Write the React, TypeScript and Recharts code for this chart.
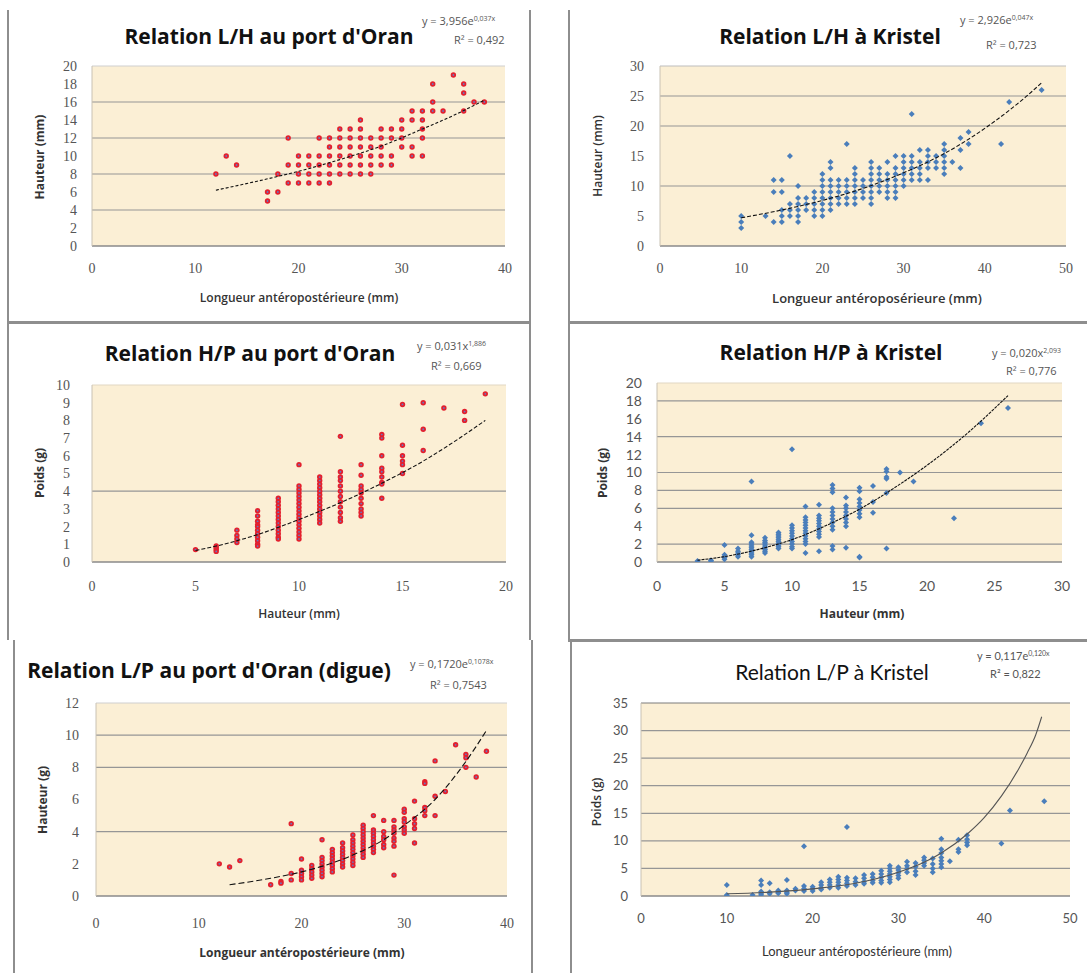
import React from "react";
import { CartesianGrid, ReferenceLine, Scatter, ScatterChart, XAxis, YAxis } from "recharts";

type Colonne = [number, number[]];
type Point = [number, number];

// Relation L/H au port d'Oran : longueur (mm) -> hauteurs (mm)
const LH_ORAN: Colonne[] = [
  [12, [8]], [13, [10]], [14, [9]], [17, [6, 5]], [18, [8, 6]], [19, [12, 9, 7]],
  [20, [10, 9, 8, 7]], [21, [10, 9, 8, 7]], [22, [12, 10, 9, 8, 7]], [23, [12, 11, 10, 9, 8, 7]],
  [24, [13, 12, 11, 10, 9, 8]], [25, [13, 12, 11, 10, 9, 8]], [26, [14, 13, 12, 11, 10, 9, 8]],
  [27, [12, 11, 10, 9, 8]], [28, [13, 12, 11, 10, 9]], [29, [13, 12, 10, 9]], [30, [14, 13, 12, 11]],
  [31, [15, 14, 11, 10]], [32, [15, 14, 13, 12, 10]], [33, [18, 16, 15]], [34, [15]], [35, [19]],
  [36, [18, 17, 15]], [37, [16]], [38, [16]],
];
const LH_ORAN_TENDANCE: Point[] = [[12, 6.2], [16, 7.2], [20, 8.3], [24, 9.6], [28, 11.1], [32, 13.0], [35, 14.5], [38, 16.2]];

// Relation L/H à Kristel
const LH_KRISTEL: Colonne[] = [
  [10, [5, 4, 3]], [13, [5]], [14, [11, 9, 4]], [15, [11, 9, 6, 5, 4]], [16, [15, 7, 6, 5]],
  [17, [10, 8, 7, 6, 5, 4]], [18, [8, 7, 6]], [19, [9, 8, 7, 6, 5]], [20, [12, 11, 10, 9, 8, 7, 6, 5]],
  [21, [14, 13, 11, 10, 9, 8, 7, 6]], [22, [11, 10, 9, 8, 7]], [23, [17, 11, 10, 9, 8, 7]],
  [24, [13, 12, 11, 10, 9, 8, 7]], [25, [11, 10, 9, 8]], [26, [14, 13, 12, 11, 10, 9, 8, 7]],
  [27, [13, 12, 11, 10, 9]], [28, [14, 12, 11, 10, 9, 8]], [29, [15, 13, 12, 11, 10, 9, 8]],
  [30, [15, 14, 13, 12, 11, 10]], [31, [22, 15, 14, 13, 12, 11]], [32, [16, 14, 13, 12, 11]],
  [33, [16, 15, 14, 13, 11]], [34, [15, 14, 13]], [35, [17, 16, 15, 14, 13, 12]], [36, [14]],
  [37, [18, 16, 13]], [38, [19, 17]], [42, [17]], [43, [24]], [47, [26]],
];
const LH_KRISTEL_TENDANCE: Point[] = [[10, 4.7], [15, 6.0], [20, 7.6], [25, 9.6], [30, 12.2], [35, 15.4], [40, 19.6], [43, 22.6], [45, 24.8], [47, 27.2]];

// Relation H/P au port d'Oran : hauteur (mm) -> poids (g)
const HP_ORAN: Colonne[] = [
  [5, [0.7]], [6, [0.9, 0.8, 0.7, 0.6]], [7, [1.8, 1.5, 1.3, 1.1]],
  [8, [2.9, 2.6, 2.3, 2.1, 2.0, 1.8, 1.6, 1.4, 1.2, 1.0, 0.9]],
  [9, [3.6, 3.4, 3.2, 3.0, 2.8, 2.6, 2.4, 2.2, 2.0, 1.8, 1.6, 1.4, 1.3]],
  [10, [5.5, 4.3, 4.1, 3.9, 3.7, 3.5, 3.3, 3.1, 2.9, 2.7, 2.5, 2.3, 2.1, 1.9, 1.7, 1.5, 1.3]],
  [11, [4.8, 4.6, 4.4, 4.2, 4.0, 3.8, 3.6, 3.4, 3.2, 3.0, 2.8, 2.6, 2.4, 2.2]],
  [12, [7.1, 5.1, 4.8, 4.6, 4.3, 4.0, 3.7, 3.4, 3.1, 2.8, 2.5, 2.3]],
  [13, [5.5, 4.9, 4.3, 4.1, 3.9, 3.6, 3.3, 3.0, 2.8, 2.6]],
  [14, [7.2, 7.0, 6.0, 5.3, 5.1, 4.8, 4.5, 4.4, 3.6]],
  [15, [8.9, 6.6, 6.0, 5.7, 5.5, 5.0]], [16, [9.0, 7.5, 6.3]], [17, [8.7]], [18, [8.5, 8.0]], [19, [9.5]],
];
const HP_ORAN_TENDANCE: Point[] = [[5, 0.65], [6, 0.9], [8, 1.55], [10, 2.4], [12, 3.35], [14, 4.45], [16, 5.7], [17.5, 6.8], [19, 8.0]];

// Relation H/P à Kristel
const HP_KRISTEL: Colonne[] = [
  [3, [0.1]], [4, [0.2, 0.1]], [5, [1.9, 0.8, 0.6, 0.5, 0.3]], [6, [1.5, 1.2, 1.0, 0.8, 0.6]],
  [7, [9.0, 3.0, 2.2, 2.0, 1.8, 1.6, 1.4, 1.2, 1.0, 0.8, 0.6]],
  [8, [2.7, 2.4, 2.2, 2.0, 1.8, 1.6, 1.4, 1.2, 1.0]],
  [9, [3.3, 3.1, 2.9, 2.7, 2.5, 2.3, 2.1, 1.9, 1.7, 1.5]],
  [10, [12.6, 4.1, 3.8, 3.5, 3.2, 2.9, 2.6, 2.3, 2.0, 1.7, 1.5]],
  [11, [6.2, 5.0, 4.7, 4.4, 4.1, 3.8, 3.5, 3.2, 2.9, 2.6, 2.3, 2.0, 1.0]],
  [12, [6.4, 5.2, 4.9, 4.6, 4.3, 4.0, 3.7, 3.4, 3.1, 2.8, 1.2]],
  [13, [8.6, 8.2, 7.8, 6.0, 5.6, 5.2, 4.8, 4.4, 4.0, 3.6, 1.8, 1.4]],
  [14, [7.2, 6.3, 6.0, 5.6, 5.2, 4.8, 4.4, 4.0, 1.6]],
  [15, [8.3, 7.9, 7.0, 6.6, 6.2, 5.8, 5.4, 5.0, 0.6, 0.5]],
  [16, [8.5, 6.7, 5.5]], [17, [10.4, 10.1, 9.5, 9.3, 7.7, 1.5]], [18, [10.0]], [19, [9.0]],
  [22, [4.9]], [24, [15.5]], [26, [17.2]],
];
const HP_KRISTEL_TENDANCE: Point[] = [[3, 0.2], [5, 0.6], [8, 1.6], [10, 2.5], [13, 4.4], [15, 5.9], [18, 8.7], [20, 10.8], [23, 14.4], [26, 18.6]];

// Relation L/P au port d'Oran (digue)
const LP_ORAN: Colonne[] = [
  [12, [2.0]], [13, [1.8]], [14, [2.2]], [17, [0.7]], [18, [0.9, 0.8]], [19, [4.5, 1.4, 1.0]],
  [20, [2.3, 1.6, 1.4, 1.2, 1.0]], [21, [1.9, 1.7, 1.5, 1.3, 1.1]],
  [22, [3.5, 2.4, 2.2, 2.0, 1.8, 1.6, 1.4, 1.2]], [23, [2.9, 2.7, 2.5, 2.3, 2.1, 1.9, 1.7, 1.5]],
  [24, [3.3, 3.0, 2.8, 2.6, 2.4, 2.2, 2.0, 1.8]], [25, [3.8, 3.5, 3.3, 3.1, 2.9, 2.7, 2.5, 2.3, 2.1, 1.9]],
  [26, [4.4, 4.2, 4.0, 3.8, 3.6, 3.4, 3.2, 3.0, 2.8, 2.6, 2.4]],
  [27, [5.0, 4.1, 3.9, 3.7, 3.5, 3.3, 3.1, 2.9, 2.7]], [28, [4.7, 4.0, 3.7, 3.5, 3.2, 3.0]],
  [29, [4.7, 4.3, 4.1, 3.9, 3.6, 3.4, 3.1, 1.3]], [30, [5.4, 5.2, 4.8, 4.6, 4.3, 4.1, 3.9]],
  [31, [5.9, 4.8, 4.5, 4.2, 3.3]], [32, [7.1, 7.0, 5.5, 5.3, 5.0]], [33, [8.4, 6.2, 5.0]],
  [34, [6.5]], [35, [9.4]], [36, [8.8, 8.6, 8.0]], [37, [7.4]], [38, [9.0]],
];
const LP_ORAN_TENDANCE: Point[] = [[13, 0.7], [17, 1.1], [20, 1.5], [23, 2.05], [25, 2.55], [28, 3.5], [30, 4.4], [33, 6.0], [35, 7.5], [37, 9.3], [38, 10.3]];

// Relation L/P à Kristel
const LP_KRISTEL: Colonne[] = [
  [10, [2.0, 0.2, 0]], [13, [0.2]], [14, [2.8, 2.0, 0.8, 0.4, 0.2]], [15, [2.3, 0.7, 0.4]],
  [16, [1.0, 0.7, 0.5]], [17, [2.9, 1.0, 0.7, 0.4]], [18, [1.3, 1.0]], [19, [9.0, 1.8, 1.3, 0.9]],
  [20, [1.7, 1.3, 0.9]], [21, [2.5, 2.0, 1.5, 1.2]], [22, [3.0, 2.5, 2.0, 1.5]],
  [23, [3.5, 3.0, 2.5, 2.0, 1.5]], [24, [12.5, 3.3, 2.8, 2.3, 1.8]], [25, [3.2, 2.6, 2.0]],
  [26, [3.8, 3.2, 2.6, 2.2]], [27, [4.0, 3.4, 2.8, 2.4]], [28, [4.6, 4.0, 3.4, 2.8, 2.4]],
  [29, [5.5, 5.0, 4.5, 4.0, 3.5, 3.0, 2.5]], [30, [5.2, 4.7, 4.2, 3.7, 3.2]],
  [31, [6.2, 5.5, 5.0, 4.3]], [32, [6.0, 5.3, 4.5, 3.8]], [33, [7.0, 6.5, 6.0, 5.5]],
  [34, [6.8, 5.8, 5.0, 4.3]], [35, [10.4, 8.5, 7.8, 7.0, 6.4, 5.8, 5.2]], [36, [6.3]],
  [37, [10.2, 8.5, 8.0]], [38, [11.0, 10.3, 9.7, 9.2]], [42, [9.5]], [43, [15.5]], [47, [17.2]],
];
const LP_KRISTEL_TENDANCE: Point[] = [[10, 0.4], [15, 0.7], [20, 1.3], [25, 2.3], [30, 4.3], [33, 6.1], [35, 7.8], [38, 11.2], [40, 14.2], [42, 18.1], [44, 23.0], [45, 25.9], [46, 29.2], [46.7, 32.5]];

// graduations
const X_0_40 = [0, 10, 20, 30, 40];
const X_0_50 = [0, 10, 20, 30, 40, 50];
const X_0_20 = [0, 5, 10, 15, 20];
const X_0_30 = [0, 5, 10, 15, 20, 25, 30];
const Y_0_20_PAS2 = [0, 2, 4, 6, 8, 10, 12, 14, 16, 18, 20];
const Y_0_30 = [0, 5, 10, 15, 20, 25, 30];
const Y_0_10 = [0, 1, 2, 3, 4, 5, 6, 7, 8, 9, 10];
const Y_0_12 = [0, 2, 4, 6, 8, 10, 12];
const Y_0_35 = [0, 5, 10, 15, 20, 25, 30, 35];

const FOND = "#fbefd5";
const ROUGE = "#e3202e";
const BLEU = "#4a7ebb";
const SERIF = "'Liberation Serif', serif";
const SANS = "'Open Sans', sans-serif";
const LATO = "Lato, sans-serif";

const enPoints = (cols: Colonne[]) => cols.flatMap(([x, ys]) => ys.map((y) => ({ x, y })));
const enLigne = (pts: Point[]) => pts.map(([x, y]) => ({ x, y }));

function PointRouge(props: any) {
  const { cx, cy } = props;
  if (cx == null || cy == null) return <g />;
  return (
    <g>
      <circle cx={cx} cy={cy} r={2.7} fill={ROUGE} />
      <circle cx={cx} cy={cy} r={0.9} fill="#6a78c0" />
    </g>
  );
}

function LosangeBleu(props: any) {
  const { cx, cy } = props;
  if (cx == null || cy == null) return <g />;
  const r = 3;
  return <path d={`M${cx},${cy - r}L${cx + r},${cy}L${cx},${cy + r}L${cx - r},${cy}Z`} fill={BLEU} />;
}

const rien = () => <g />;

type Equation = { texte: string; exposant?: string; left: number; cy: number };

type Panneau = {
  id: string;
  cols: Colonne[];
  tendance: Point[];
  forme: any;
  plot: [number, number, number, number];
  xDomain: [number, number];
  xTicks: number[];
  yDomain: [number, number];
  yTicks: number[];
  grille: number[];
  bordHaut: string;
  police: string;
  taille: number;
  xMarge: number;
  yMarge: number;
  trait: string;
  titre: { texte: string; cx: number; cy: number; gras: boolean; police: string; taille: number };
  eq: Equation[];
  eqPolice: string;
  xTitre: { texte: string; cx: number; cy: number; poids: number; police: string; taille: number };
  yTitre: { texte: string; cx: number; cy: number; poids: number; police: string; taille: number };
};

const PANNEAUX: Panneau[] = [
  {
    id: "lh-oran", cols: LH_ORAN, tendance: LH_ORAN_TENDANCE, forme: PointRouge,
    plot: [92, 66, 505, 246], xDomain: [0, 40], xTicks: X_0_40, yDomain: [0, 20], yTicks: Y_0_20_PAS2,
    grille: [4, 8, 12, 16], bordHaut: "#cfcfcf", police: SERIF, taille: 14, xMarge: 17, yMarge: 15, trait: "3 2",
    titre: { texte: "Relation L/H au port d'Oran", cx: 269, cy: 36, gras: true, police: SANS, taille: 21 },
    eq: [{ texte: "y = 3,956e", exposant: "0,037x", left: 422, cy: 20 }, { texte: "R² = 0,492", left: 454, cy: 39 }],
    eqPolice: SANS,
    xTitre: { texte: "Longueur antéropostérieure (mm)", cx: 299, cy: 298, poids: 600, police: SANS, taille: 12 },
    yTitre: { texte: "Hauteur (mm)", cx: 40, cy: 157, poids: 700, police: SANS, taille: 12 },
  },
  {
    id: "lh-kristel", cols: LH_KRISTEL, tendance: LH_KRISTEL_TENDANCE, forme: LosangeBleu,
    plot: [660, 66, 1066, 246], xDomain: [0, 50], xTicks: X_0_50, yDomain: [0, 30], yTicks: Y_0_30,
    grille: [10, 20, 25], bordHaut: "#bdbdbd", police: SERIF, taille: 14, xMarge: 17, yMarge: 16, trait: "4 2",
    titre: { texte: "Relation L/H à Kristel", cx: 830, cy: 36, gras: true, police: SANS, taille: 21 },
    eq: [{ texte: "y = 2,926e", exposant: "0,047x", left: 960, cy: 19 }, { texte: "R² = 0,723", left: 986, cy: 44 }],
    eqPolice: SANS,
    xTitre: { texte: "Longueur antéroposérieure (mm)", cx: 877, cy: 298, poids: 600, police: SANS, taille: 13 },
    yTitre: { texte: "Hauteur (mm)", cx: 598, cy: 156, poids: 600, police: SANS, taille: 12 },
  },
  {
    id: "hp-oran", cols: HP_ORAN, tendance: HP_ORAN_TENDANCE, forme: PointRouge,
    plot: [92, 385, 506, 562], xDomain: [0, 20], xTicks: X_0_20, yDomain: [0, 10], yTicks: Y_0_10,
    grille: [4], bordHaut: "#e2d8c4", police: SERIF, taille: 14, xMarge: 19, yMarge: 22, trait: "4 2",
    titre: { texte: "Relation H/P au port d'Oran", cx: 250, cy: 353, gras: true, police: SANS, taille: 21 },
    eq: [{ texte: "y = 0,031x", exposant: "1,886", left: 417, cy: 345 }, { texte: "R² = 0,669", left: 431, cy: 365 }],
    eqPolice: SANS,
    xTitre: { texte: "Hauteur (mm)", cx: 299, cy: 614, poids: 600, police: SANS, taille: 12 },
    yTitre: { texte: "Poids (g)", cx: 40, cy: 473, poids: 700, police: SANS, taille: 12 },
  },
  {
    id: "hp-kristel", cols: HP_KRISTEL, tendance: HP_KRISTEL_TENDANCE, forme: LosangeBleu,
    plot: [657, 383, 1062, 562], xDomain: [0, 30], xTicks: X_0_30, yDomain: [0, 20], yTicks: Y_0_20_PAS2,
    grille: [2, 6, 8, 10, 14, 18], bordHaut: "#e2d8c4", police: LATO, taille: 14, xMarge: 19, yMarge: 15, trait: "3 1",
    titre: { texte: "Relation H/P à Kristel", cx: 831, cy: 352, gras: true, police: SANS, taille: 21 },
    eq: [{ texte: "y = 0,020x", exposant: "2,093", left: 992, cy: 352 }, { texte: "R² = 0,776", left: 1006, cy: 370 }],
    eqPolice: SANS,
    xTitre: { texte: "Hauteur (mm)", cx: 862, cy: 614, poids: 700, police: SANS, taille: 12 },
    yTitre: { texte: "Poids (g)", cx: 603, cy: 473, poids: 700, police: SANS, taille: 12 },
  },
  {
    id: "lp-oran", cols: LP_ORAN, tendance: LP_ORAN_TENDANCE, forme: PointRouge,
    plot: [96, 703, 507, 896], xDomain: [0, 40], xTicks: X_0_40, yDomain: [0, 12], yTicks: Y_0_12,
    grille: [4, 8, 10], bordHaut: "#cfcfcf", police: SERIF, taille: 14, xMarge: 22, yMarge: 17, trait: "6 3",
    titre: { texte: "Relation L/P au port d'Oran (digue)", cx: 209, cy: 670, gras: true, police: SANS, taille: 21 },
    eq: [{ texte: "y = 0,1720e", exposant: "0,1078x", left: 410, cy: 663 }, { texte: "R² = 0,7543", left: 430, cy: 684 }],
    eqPolice: SANS,
    xTitre: { texte: "Longueur antéropostérieure (mm)", cx: 302, cy: 953, poids: 700, police: SANS, taille: 12 },
    yTitre: { texte: "Hauteur (g)", cx: 43, cy: 800, poids: 700, police: SANS, taille: 12 },
  },
  {
    id: "lp-kristel", cols: LP_KRISTEL, tendance: LP_KRISTEL_TENDANCE, forme: LosangeBleu,
    plot: [641, 703, 1070, 896], xDomain: [0, 50], xTicks: X_0_50, yDomain: [0, 35], yTicks: Y_0_35,
    grille: [5, 10, 15, 20, 25, 30], bordHaut: "#7d7d7d", police: LATO, taille: 13, xMarge: 18, yMarge: 13, trait: "0",
    titre: { texte: "Relation L/P à Kristel", cx: 832, cy: 671, gras: false, police: LATO, taille: 21 },
    eq: [{ texte: "y = 0,117e", exposant: "0,120x", left: 977, cy: 655 }, { texte: "R² = 0,822", left: 990, cy: 673 }],
    eqPolice: LATO,
    xTitre: { texte: "Longueur antéropostérieure (mm)", cx: 857, cy: 951, poids: 400, police: LATO, taille: 13 },
    yTitre: { texte: "Poids (g)", cx: 597, cy: 802, poids: 600, police: SANS, taille: 12 },
  },
];

// traits des cadres scannés : [x, y, largeur, hauteur]
const CADRES: [number, number, number, number][] = [
  [7, 10, 2, 630], [529, 10, 2, 630], [7, 321, 524, 3],
  [568, 10, 2, 630], [568, 321, 519, 3], [568, 639, 519, 3],
  [570, 640, 2, 333], [13, 640, 2, 333], [531, 640, 2, 333],
];

const ML = 70;
const MT = 12;
const MR = 16;
const MB = 40;

function Graphique({ p }: { p: Panneau }) {
  const [L, T, R, B] = p.plot;
  const largeur = R - L + ML + MR;
  const hauteur = B - T + MT + MB;
  const tick = { fill: "#555", fontSize: p.taille, fontFamily: p.police };
  return (
    <div style={{ position: "absolute", left: L - ML, top: T - MT }}>
      <ScatterChart width={largeur} height={hauteur} margin={{ top: MT, right: MR, bottom: 0, left: 0 }}>
        <CartesianGrid horizontal={false} vertical={false} fill={FOND} fillOpacity={1} />
        <XAxis
          type="number" dataKey="x" domain={p.xDomain} ticks={p.xTicks} interval={0} height={MB}
          tickLine={false} tickSize={0} tickMargin={p.xMarge} tick={tick}
          axisLine={{ stroke: "#8a8a8a", strokeWidth: 1.5 }} allowDataOverflow
        />
        <YAxis
          type="number" dataKey="y" domain={p.yDomain} ticks={p.yTicks} interval={0} width={ML}
          tickLine={false} tickSize={0} tickMargin={p.yMarge} tick={tick}
          axisLine={{ stroke: "#c9c2b4" }} allowDataOverflow
        />
        <ReferenceLine y={p.yDomain[1]} stroke={p.bordHaut} strokeWidth={1.2} />
        {p.grille.map((v) => (
          <ReferenceLine key={v} y={v} stroke="#969696" strokeWidth={1.2} />
        ))}
        <Scatter data={enPoints(p.cols)} shape={p.forme} isAnimationActive={false} />
        <Scatter
          data={enLigne(p.tendance)} shape={rien} lineJointType="monotoneX"
          line={{ stroke: p.id === "lp-kristel" ? "#555" : "#111", strokeWidth: 1.1, strokeDasharray: p.trait }}
          isAnimationActive={false}
        />
      </ScatterChart>
    </div>
  );
}

function Textes({ p }: { p: Panneau }) {
  const t = p.titre;
  return (
    <>
      <div
        style={{
          position: "absolute", left: t.cx, top: t.cy, transform: "translate(-50%, -50%)", whiteSpace: "nowrap",
          fontFamily: t.police, fontSize: t.taille, fontWeight: t.gras ? 700 : 400, color: "#111", lineHeight: 1,
        }}
      >
        {t.texte}
      </div>
      {p.eq.map((e, i) => (
        <div
          key={i}
          style={{
            position: "absolute", left: e.left, top: e.cy, transform: "translateY(-50%)", whiteSpace: "nowrap",
            fontFamily: p.eqPolice, fontSize: 11, color: "#555", lineHeight: 1,
          }}
        >
          {e.texte}
          {e.exposant && <sup style={{ fontSize: 7, verticalAlign: "4px" }}>{e.exposant}</sup>}
        </div>
      ))}
      <div
        style={{
          position: "absolute", left: p.xTitre.cx, top: p.xTitre.cy, transform: "translate(-50%, -50%)",
          whiteSpace: "nowrap", fontFamily: p.xTitre.police, fontSize: p.xTitre.taille, fontWeight: p.xTitre.poids,
          color: "#333", lineHeight: 1,
        }}
      >
        {p.xTitre.texte}
      </div>
      <div
        style={{
          position: "absolute", left: p.yTitre.cx, top: p.yTitre.cy, transform: "translate(-50%, -50%) rotate(-90deg)",
          whiteSpace: "nowrap", fontFamily: p.yTitre.police, fontSize: p.yTitre.taille, fontWeight: p.yTitre.poids,
          color: "#333", lineHeight: 1,
        }}
      >
        {p.yTitre.texte}
      </div>
    </>
  );
}

export default function App() {
  return (
    <div
      style={{
        position: "absolute", left: 0, top: 0, width: 1087, height: 973, background: "#fff",
        overflow: "hidden", fontFamily: SANS,
      }}
    >
      {CADRES.map(([x, y, w, h], i) => (
        <div key={i} style={{ position: "absolute", left: x, top: y, width: w, height: h, background: "#8e8e8e" }} />
      ))}
      {PANNEAUX.map((p) => (
        <Graphique key={p.id} p={p} />
      ))}
      {PANNEAUX.map((p) => (
        <Textes key={p.id} p={p} />
      ))}
    </div>
  );
}
